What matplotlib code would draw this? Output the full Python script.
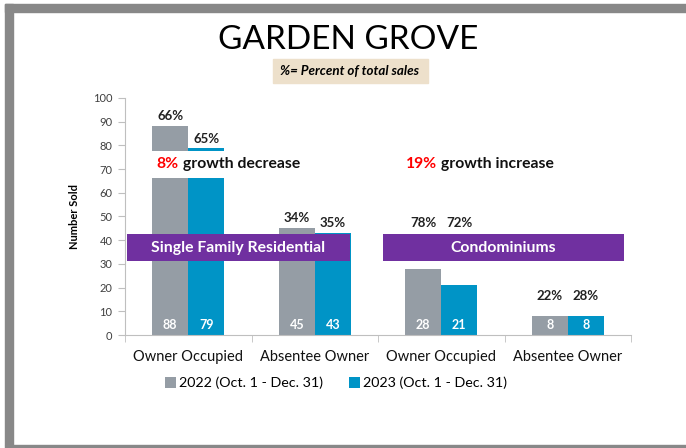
import matplotlib.pyplot as plt
from matplotlib.patches import Rectangle
import numpy as np

# Data
categories = ['Owner Occupied', 'Absentee Owner', 'Owner Occupied', 'Absentee Owner']
sold_2022 = [88, 45, 28, 8]
sold_2023 = [79, 43, 21, 8]
pct_2022 = ['66%', '34%', '78%', '22%']
pct_2023 = ['65%', '35%', '72%', '28%']
series_names = ['2022 (Oct. 1 - Dec. 31)', '2023 (Oct. 1 - Dec. 31)']
growth_pct = ['8%', '19%']
growth_txt = [' growth decrease', ' growth increase']
group_names = ['Single Family Residential', 'Condominiums']

plt.rcParams['font.family'] = ['Lato', 'DejaVu Sans']

GRAY = '#959DA5'
BLUE = '#0094C6'
PURPLE = '#7030A0'
AXIS = '#BFBFBF'

fig = plt.figure(figsize=(6.86, 4.48), dpi=100)
W, H = 686, 448

# slide border (gray bands)
fig.patches.append(Rectangle((5 / W, (H - 12) / H), 1, 8 / H, transform=fig.transFigure,
                             color='#888888', zorder=0))
fig.patches.append(Rectangle((5 / W, 3 / H), 8 / W, (H - 7) / H, transform=fig.transFigure,
                             color='#888888', zorder=0))
fig.patches.append(Rectangle((5 / W, 0), 1, 3 / H, transform=fig.transFigure,
                             color='#888888', zorder=0))

ax = fig.add_axes([125 / W, (H - 335) / H, (631 - 125) / W, (335 - 98) / H])

x = np.arange(len(categories))
bw = 0.285
b1 = ax.bar(x - bw / 2, sold_2022, bw, color=GRAY, label=series_names[0], zorder=2)
b2 = ax.bar(x + bw / 2, sold_2023, bw, color=BLUE, label=series_names[1], zorder=2)

ax.set_xlim(-0.5, 3.5)
ax.set_ylim(0, 100)
ax.set_yticks(range(0, 101, 10))
ax.set_xticks(x)
ax.set_xticklabels(categories, fontsize=10.5)
ax.set_xticks([-0.5, 0.5, 1.5, 2.5, 3.5], minor=True)
ax.tick_params(axis='x', which='major', length=0, pad=11, colors='#111111')
ax.tick_params(axis='x', which='minor', length=5, color=AXIS)
ax.tick_params(axis='y', length=5, color=AXIS, labelsize=8, labelcolor='#404040', pad=4)
for s in ['top', 'right']:
    ax.spines[s].set_visible(False)
for s in ['left', 'bottom']:
    ax.spines[s].set_color(AXIS)
ax.set_ylabel('Number Sold', fontsize=8, fontweight='bold', labelpad=9)

# value labels inside the bars
for bars, vals in [(b1, sold_2022), (b2, sold_2023)]:
    for r, v in zip(bars, vals):
        ax.text(r.get_x() + r.get_width() / 2, 4.2, str(v), ha='center', va='center',
                color='white', fontsize=9, fontweight='bold', zorder=5)

# percent-of-sales labels
pct_y_2022 = [92.4, 49.4, 47.2, 16.5]
pct_y_2023 = [82.7, 47.2, 47.2, 16.5]
for i in range(len(categories)):
    ax.text(x[i] - bw / 2, pct_y_2022[i], pct_2022[i], ha='center', va='center',
            fontsize=9.5, fontweight='bold', color='#222222', zorder=6)
    ax.text(x[i] + bw / 2, pct_y_2023[i], pct_2023[i], ha='center', va='center',
            fontsize=9.5, fontweight='bold', color='#222222', zorder=6)

# white box behind the growth text on the first group
ax.add_patch(Rectangle((-0.32, 66.2), 1.3, 11.4, facecolor='white', edgecolor='none', zorder=3))

# purple group banners
ax.add_patch(Rectangle((-0.484, 31.2), 1.763, 11.4, facecolor=PURPLE, edgecolor='none', zorder=4))
ax.add_patch(Rectangle((1.54, 31.2), 1.905, 11.4, facecolor=PURPLE, edgecolor='none', zorder=4))
ax.text((-0.484 + 1.279) / 2, 36.9, group_names[0], ha='center', va='center', color='white',
        fontsize=11.3, fontweight='bold', zorder=5)
ax.text((1.54 + 3.445) / 2, 36.9, group_names[1], ha='center', va='center', color='white',
        fontsize=11.3, fontweight='bold', zorder=5)

# growth annotations (red percent + black text)
fig.canvas.draw()
rend = fig.canvas.get_renderer()
for gx, p, t in [(-0.25, growth_pct[0], growth_txt[0]), (1.72, growth_pct[1], growth_txt[1])]:
    tp = ax.text(gx, 72.2, p, ha='left', va='center', color='#FF0000', fontsize=11.3,
                 fontweight='bold', zorder=6)
    bb = tp.get_window_extent(renderer=rend)
    x_end = ax.transData.inverted().transform((bb.x1, bb.y0))[0]
    ax.text(x_end, 72.2, t, ha='left', va='center', color='#111111', fontsize=11.3,
            fontweight='bold', zorder=6)

# title and note
fig.text(348 / W, 1 - 40 / H, 'GARDEN GROVE', ha='center', va='center', fontsize=24)
fig.patches.append(Rectangle((273 / W, 1 - 83 / H), (428 - 273) / W, 24 / H,
                             transform=fig.transFigure, color='#EDE0CB', zorder=1))
fig.text(349 / W, 1 - 71 / H, '%= Percent of total sales', ha='center', va='center',
         fontsize=9.6, fontstyle='italic', fontweight='bold', zorder=2)

fig.legend(handles=[b1, b2], loc='center', bbox_to_anchor=(336 / W, 1 - 383 / H), ncol=2,
           frameon=False, fontsize=10.3, handlelength=0.75, handleheight=0.75,
           handletextpad=0.25, columnspacing=1.8)

fig.savefig('out.png', dpi=100)
